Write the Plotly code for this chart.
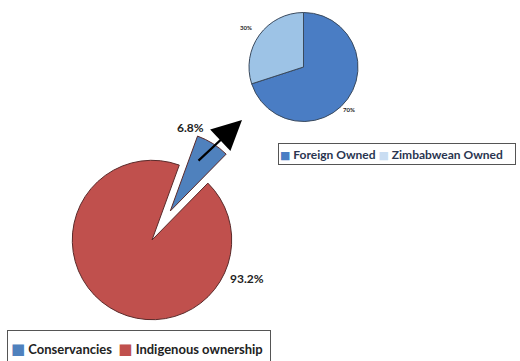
import plotly.graph_objects as go

# ---- data ----
main_labels = ["Conservancies", "Indigenous ownership"]
main_values = [6.8, 93.2]
main_colors = ["#4F81BD", "#C0504D"]

sub_labels = ["Foreign Owned", "Zimbabwean Owned"]
sub_values = [70, 30]
sub_colors = ["#4A7DC4", "#9DC3E6"]

W, H = 520, 361


def px(x, y):
    return x / W, 1 - y / H


fig = go.Figure()

# big pie
bx0, by1 = px(38, 126)
bx1, by0 = px(266, 354)
fig.add_trace(go.Pie(
    labels=main_labels, values=main_values, sort=False,
    direction="clockwise", rotation=20, pull=[0.43, 0],
    marker=dict(colors=main_colors, line=dict(color="#5a2a2a", width=1)),
    textinfo="none", hoverinfo="label+percent", showlegend=False,
    domain=dict(x=[bx0, bx1], y=[by0, by1]),
))

# small pie
sx0, sy1 = px(249, 12.5)
sx1, sy0 = px(358, 121.5)
fig.add_trace(go.Pie(
    labels=sub_labels, values=sub_values, sort=False,
    direction="clockwise", rotation=0,
    marker=dict(colors=sub_colors, line=dict(color="#3a4a5e", width=1)),
    textinfo="none", hoverinfo="label+percent", showlegend=False,
    domain=dict(x=[sx0, sx1], y=[sy0, sy1]),
))

annotations = []

# arrow
ax_, ay_ = px(242, 120)
annotations.append(dict(
    x=ax_, y=ay_, xref="paper", yref="paper", ax=-45, ay=42,
    showarrow=True, arrowhead=2, arrowsize=2.7, arrowwidth=2.2,
    arrowcolor="#000000", text="",
))

# percentage labels of big pie
main_pos = [(190, 118), (247, 288)]
for v, (x, y) in zip(main_values, main_pos):
    xx, yy = px(x, y)
    annotations.append(dict(
        x=xx, y=yy, xref="paper", yref="paper", showarrow=False,
        text=f"<b>{v:.1f}%</b>", font=dict(family="Lato", size=12, color="#222222"),
    ))

# percentage labels of small pie
sub_pos = [(357, 104), (246, 22)]
for v, (x, y) in zip(sub_values, sub_pos):
    xx, yy = px(x, y)
    annotations.append(dict(
        x=xx, y=yy, xref="paper", yref="paper", showarrow=False,
        text=f"<b>{v:.0f}%</b>", font=dict(family="Lato", size=6, color="#222222"),
    ))


def legend_text(labels, colors, sep, sq):
    return sep.join(
        f"<span style='color:{c};font-family:DejaVu Sans;font-size:{sq}px'>■</span> {l}"
        for l, c in zip(labels, colors)
    )


# bottom legend
lx, ly = px(7, 330)
annotations.append(dict(
    x=lx, y=ly, xref="paper", yref="paper", xanchor="left", yanchor="top",
    showarrow=False, align="left", valign="middle",
    text="<b>" + legend_text(main_labels, main_colors, "  ", 15) + "</b>",
    font=dict(family="Lato", size=13, color="#222222"),
    bordercolor="#555555", borderwidth=1, borderpad=3,
    width=256, height=30, bgcolor="white",
))

# top legend
tx, ty = px(278, 143)
annotations.append(dict(
    x=tx, y=ty, xref="paper", yref="paper", xanchor="left", yanchor="top",
    showarrow=False, align="left", valign="middle",
    text="<b>" + legend_text(sub_labels, ["#4A7DC4", "#C9DDF2"], " ", 11) + "</b>",
    font=dict(family="Lato", size=12, color="#2a3550"),
    bordercolor="#555555", borderwidth=1, borderpad=1,
    width=234, height=18, bgcolor="white",
))

fig.update_layout(
    width=W, height=H, margin=dict(l=0, r=0, t=0, b=0),
    paper_bgcolor="white", plot_bgcolor="white",
    annotations=annotations, showlegend=False,
)

fig.write_html("out.html")
